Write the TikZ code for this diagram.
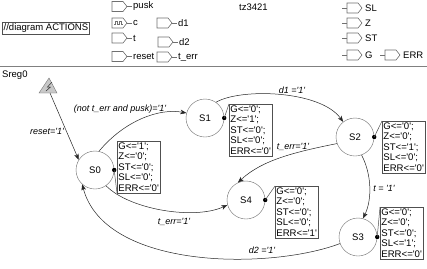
\documentclass[tikz,border=0pt]{standalone}
\usepackage{fontspec}
\newfontfamily\arial{Liberation Sans}
\usetikzlibrary{arrows.meta}
\definecolor{stategray}{HTML}{6E6E6E}
\definecolor{boxgray}{HTML}{505050}
\definecolor{portgray}{HTML}{707070}
\definecolor{trigray}{HTML}{C8C8C8}
\definecolor{sepgray}{HTML}{808080}
\begin{document}
\begin{tikzpicture}[x=1pt,y=1pt,
  every node/.style={font=\arial\fontsize{9.5}{10}\selectfont, inner sep=0pt},
  state/.style={circle, draw=stategray, minimum size=38pt, inner sep=0pt},
  actbox/.style={draw=boxgray, align=left, anchor=north west, inner sep=1.2pt, font=\arial\fontsize{9.6}{10.6}\selectfont},
  elabel/.style={font=\arial\itshape\fontsize{9}{10}\selectfont},
  trans/.style={draw=black!85, line width=0.5pt, -{Stealth[length=6pt,width=4.5pt,inset=1.5pt]}},
  portc/.style={draw=portgray, line width=0.6pt},
  attach/.style={draw=boxgray, line width=0.5pt},
  txt/.style={anchor=west},
  inport/.pic={\draw[portc] (0,5)--(11,5)--(15,0)--(11,-5)--(0,-5)--cycle; \draw[portc] (15,0)--(20,0);},
  outport/.pic={\draw[portc] (0,0)--(5,0); \draw[portc] (5,5)--(16,5)--(20,0)--(16,-5)--(5,-5)--cycle;}
]
\useasboundingbox[fill=white] (0,0) rectangle (427,-268);

% header
\node[draw=boxgray, inner sep=1.5pt, anchor=west] (title) at (2,-28.5) {//diagram ACTIONS};
\pic at (112,-6.5) {inport};  \node[txt] (pusk) at (133,-6.5) {pusk};
\pic at (112,-23) {inport};   \node[txt] (c) at (133,-23) {c};
\draw[portc] (114,-24.5)--(115.5,-24.5)--(115.5,-21.5)--(117.5,-21.5)--(117.5,-24.5)--(119.5,-24.5)--(119.5,-21.5)--(121.5,-21.5)--(121.5,-24.5)--(123,-24.5);
\pic at (112,-38) {inport};   \node[txt] (t) at (133,-38) {t};
\pic at (112,-56.5) {inport}; \node[txt] (reset) at (133,-56.5) {reset};
\pic at (157,-23) {inport};   \node[txt] (d1) at (178,-23) {d1};
\pic at (158,-42) {inport};   \node[txt] (d2) at (179,-42) {d2};
\pic at (157,-57) {inport};   \node[txt] (terr) at (178,-57) {t\_err};
\node[txt] (tz) at (239,-7) {tz3421};
\pic at (342,-8) {outport};   \node[txt] (SL) at (365,-8) {SL};
\pic at (342,-23) {outport};  \node[txt] (Z) at (365,-23) {Z};
\pic at (342,-38) {outport};  \node[txt] (ST) at (365,-38) {ST};
\pic at (342,-55) {outport};  \node[txt] (G) at (365,-55) {G};
\pic at (380,-55) {outport};  \node[txt] (ERR) at (403,-55) {ERR};
\draw[sepgray, line width=1.3pt] (0,-66.5) -- (427,-66.5);

\node[txt] (sreg) at (2,-75) {Sreg0};

% reset triangle
\draw[draw=stategray, fill=trigray] (39,-93)--(57,-93)--(49,-78)--cycle;
\draw[black!80, line width=0.5pt] (52,-82)--(47.5,-87)--(50.5,-87)--(46,-91);
\coordinate (init) at (50,-93);

% states
\node[state] (S0) at (95,-170) {S0};
\node[state] (S1) at (205,-118) {S1};
\node[state] (S2) at (355,-137) {S2};
\node[state] (S4) at (246,-200) {S4};
\node[state] (S3) at (358,-237) {S3};

% action boxes
\node[actbox] (A0) at (117,-141) {G<='1';\\Z<='0';\\ST<='0';\\SL<='0';\\ERR<='0'};
\node[actbox] (A1) at (229,-104) {G<='0';\\Z<='1';\\ST<='0';\\SL<='0';\\ERR<='0'};
\node[actbox] (A2) at (382,-121) {G<='0';\\Z<='0';\\ST<='1';\\SL<='0';\\ERR<='0'};
\node[actbox] (A4) at (275,-186) {G<='0';\\Z<='0';\\ST<='0';\\SL<='0';\\ERR<='1'};
\node[actbox] (A3) at (380,-207) {G<='0';\\Z<='0';\\ST<='0';\\SL<='1';\\ERR<='0'};

\foreach \s/\a/\c in {S0/A0/south west, S1/A1/north west, S2/A2/north west, S4/A4/north west, S3/A3/north west}{
  \fill[black] (\s.east) circle (2.2);
  \draw[attach] (\s.east) -- (\a.\c);
}

% transitions
\draw[trans] (init) -- (S0.148);
\node[elabel] (l0) at (47,-131) {reset='1'};

\draw[trans] (S0.78) .. controls (125,-120) and (160,-108) .. (S1.165);
\node[elabel] (l1) at (120,-109) {(not t\_err and pusk)='1'};

\draw[trans] (S1.55) .. controls (240,-88) and (320,-90) .. (S2.128);
\node[elabel] (l2) at (292,-90) {d1 ='1'};

\draw[trans] (S2.200) .. controls (295,-152) and (262,-160) .. (S4.115);
\node[elabel] (l3) at (293,-147) {t\_err='1'};

\draw[trans] (S2.-70) .. controls (372,-175) and (372,-200) .. (S3.75);
\node[elabel] (l4) at (384,-188) {t = '1'};

\draw[trans] (S0.-55) .. controls (130,-210) and (195,-220) .. (S4.195);
\node[elabel] (l5) at (174,-222) {t\_err='1'};

\draw[trans] (S3.200) .. controls (270,-270) and (105,-270) .. (S0.228);
\node[elabel] (l6) at (262,-250) {d2 ='1'};
\end{tikzpicture}
\end{document}
